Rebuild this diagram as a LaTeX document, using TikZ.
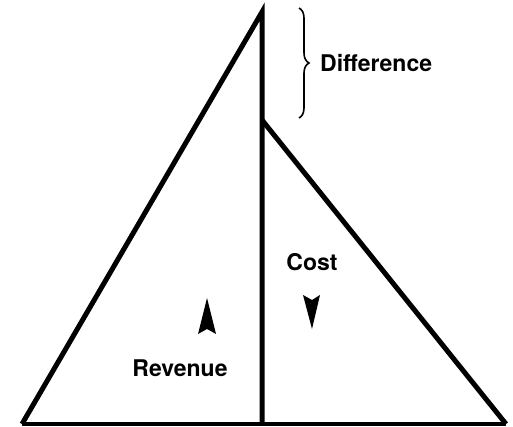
\documentclass[tikz,border=0pt]{standalone}
\usepackage{fontspec}
\setmainfont{TeX Gyre Heros}
\usetikzlibrary{decorations.pathreplacing}
\begin{document}
\begin{tikzpicture}[x=1pt,y=-1pt,
  edge/.style={line width=5pt,line join=miter,line cap=butt},
  lbl/.style={font=\fontsize{23}{27}\selectfont\bfseries,inner sep=0pt},
  head/.style={fill=black,draw=none}]
\useasboundingbox (0,0) rectangle (513,427);
\coordinate (L) at (22,424);
\coordinate (A) at (262,12);
\coordinate (B) at (262,424);
\coordinate (C) at (262,120);
\coordinate (R) at (506,424);
% baseline
\draw[line width=3.5pt] (L) -- (R);
% left triangle
\draw[edge] (L) -- (A) -- (B);
% right triangle
\draw[edge] (C) -- (R);
% brace
\draw[line width=1.6pt,decorate,decoration={brace,amplitude=10pt}] (299,8) -- (299,118);
\node[lbl,anchor=west] (diff) at (320,63) {Difference};
\node[lbl] (cost) at (312,262) {Cost};
\node[lbl] (rev) at (180,368) {Revenue};
% arrowheads
\fill[head] (207,298) -- (216,334) -- (207,329) -- (198,334) -- cycle;
\fill[head] (312,329) -- (320,295) -- (312,300) -- (303,295) -- cycle;
\end{tikzpicture}
\end{document}
